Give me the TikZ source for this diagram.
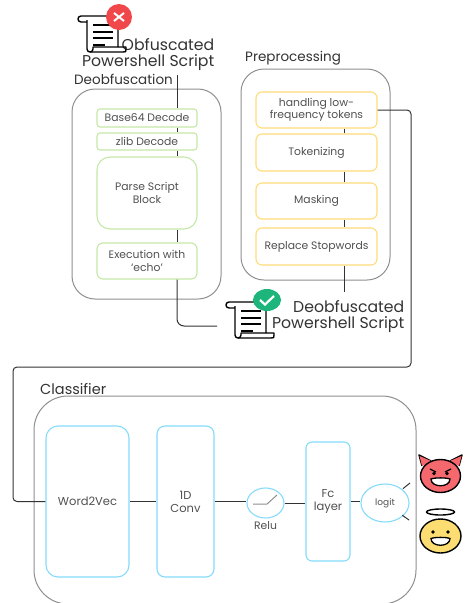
\documentclass[tikz,border=0pt]{standalone}
\usepackage{fontspec}
\setmainfont{Poppins}
\usetikzlibrary{calc,shapes.geometric}
\definecolor{panelgray}{HTML}{8F8F8F}
\definecolor{linedark}{HTML}{333333}
\definecolor{textgray}{HTML}{505050}
\definecolor{boxgreen}{HTML}{C4E8A8}
\definecolor{boxyellow}{HTML}{FFDC78}
\definecolor{boxblue}{HTML}{84DBFB}
\definecolor{badred}{HTML}{F0474A}
\definecolor{goodgreen}{HTML}{1DB57C}
\definecolor{devilred}{HTML}{F4686E}
\definecolor{angelyellow}{HTML}{FBDD72}
\tikzset{x=1pt,y=-1pt}
\tikzset{
  sized/.style 2 args={minimum width=#1pt,minimum height=#2pt,inner sep=0pt},
  panel/.style={draw=panelgray,line width=1pt,rounded corners=23pt},
  greenbox/.style={draw=boxgreen,line width=1.1pt,text=textgray,align=center,font=\fontsize{10.8}{12.5}\selectfont},
  yellowbox/.style={draw=boxyellow,line width=1.1pt,text=textgray,align=center,rounded corners=6pt,font=\fontsize{10.8}{12.5}\selectfont},
  bluebox/.style={draw=boxblue,line width=1.1pt,text=textgray,align=center,font=\fontsize{11.5}{13}\selectfont},
  conn/.style={draw=linedark,line width=1pt},
  title/.style={text=linedark,inner sep=0pt,font=\fontsize{13.5}{14}\selectfont},
  bigtitle/.style={text=linedark,inner sep=0pt,align=right,anchor=east,font=\fontsize{15.7}{16.5}\selectfont},
  scrollpic/.pic={
    \draw[black,line width=1.4pt,line join=round,fill=white] (0,4) -- (0,33) .. controls (0,37) and (6,37) .. (6,33) -- (6,31) -- (31,31) -- (31,0) -- (-6,0) .. controls (-10,0) and (-10,6) .. (-6,6) -- (0,6);
    \draw[black,line width=1.4pt,line join=round] (31,31) -- (39,31) -- (39,33) .. controls (39,36) .. (36,36) -- (3,36);
    \draw[black,line width=1.2pt] (6,9) -- (26,9)  (6,16) -- (26,16)  (6,22) -- (26,22)  (6,29) -- (18,29);
  },
}

\begin{document}
\begin{tikzpicture}

\clip (0,0) rectangle (464,603);

% panels
\node[panel,sized={149}{210}] (deobpanel) at (146.5,194) {};
\node[panel,sized={149}{211}] (prepanel) at (315.5,174.5) {};
\node[panel,sized={382}{208},rounded corners=34pt] (classpanel) at (225,500) {};

\node[title,anchor=west] (deobtitle) at (74,79) {Deobfuscation};
\node[title,anchor=west] (pretitle) at (245,58) {Preprocessing};
\node[title,anchor=west,font=\fontsize{14.5}{15}\selectfont] (classtitle) at (40,389) {Classifier};

% deobfuscation steps
\node[greenbox,sized={100}{18},rounded corners=3pt] (base) at (147,118) {Base64 Decode};
\node[greenbox,sized={100}{17},rounded corners=3pt] (zlib) at (147,141.5) {zlib Decode};
\node[greenbox,sized={100}{72},rounded corners=13pt] (parse) at (147,193) {Parse Script\\Block};
\node[greenbox,sized={100}{36},rounded corners=6pt] (exec) at (147,261) {Execution with\\`echo'};

% preprocessing steps
\node[yellowbox,sized={121}{36}] (lowfreq) at (316.5,110) {handling low-\\frequency tokens};
\node[yellowbox,sized={121}{37}] (token) at (316.5,152.5) {Tokenizing};
\node[yellowbox,sized={121}{36}] (mask) at (316.5,201) {Masking};
\node[yellowbox,sized={121}{37}] (stop) at (316.5,246.5) {Replace Stopwords};

% classifier
\node[bluebox,sized={83}{151},rounded corners=12pt] (wordvec) at (87.5,501.5) {Word2Vec};
\node[bluebox,sized={57}{151},rounded corners=8pt] (conv) at (185.5,501.5) {1D\\Conv};
\node[ellipse,draw=boxblue,line width=1.1pt,sized={37}{30}] (relu) at (265.5,503) {};
\node[text=textgray,inner sep=0pt,font=\fontsize{10.8}{14}\selectfont] (relulabel) at (265.5,526) {Relu};
\node[bluebox,sized={44}{119},rounded corners=6pt] (fc) at (328,501.5) {Fc\\layer};
\node[ellipse,draw=boxblue,line width=1.1pt,text=textgray,sized={48}{38},font=\fontsize{9}{9}\selectfont] (logit) at (385,503) {logit};

% script texts
\node[bigtitle] (obftext) at (214.5,54.5) {Obfuscated\\Powershell Script};
\node[bigtitle] (deobtext) at (404.5,316.5) {Deobfuscated\\Powershell Script};

\coordinate (deobin) at (177,75);
\coordinate (deobout) at (217,326);
\coordinate (preout) at (344.5,292);
\coordinate (turnright) at (411,367);
\coordinate (turnleft) at (13,367);
\coordinate (devilend) at (410,483);
\coordinate (angelend) at (409,520);

\draw[conn] (deobin) -- (deobin |- base.north);
\foreach \a/\b in {base/zlib,zlib/parse,parse/exec}
	\draw[conn] (deobin |- \a.south) -- (deobin |- \b.north);
\draw[conn,rounded corners=7pt] (deobin |- exec.south) -- (deobin |- deobout) -- (deobout);

\foreach \a/\b in {lowfreq/token,token/mask,mask/stop}
	\draw[conn] (preout |- \a.south) -- (preout |- \b.north);
\draw[conn] (preout |- stop.south) -- (preout);

\draw[conn,rounded corners=4pt] (lowfreq.east) -- (lowfreq.east -| turnright) -- (turnright) -- (turnleft) -- (turnleft |- wordvec.west) -- (wordvec.west);
\draw[conn] (wordvec.east) -- (wordvec.east -| conv.west);
\draw[conn] (conv.east) -- (conv.east -| relu.west);
\draw[conn] (relu.east) -- (relu.east -| fc.west);
\draw[conn] (fc.east) -- (fc.east -| logit.west);
\draw[conn] ($(logit.center)!0.72!(devilend)$) -- (devilend);
\draw[conn] ($(logit.center)!0.72!(angelend)$) -- (angelend);

% relu curve
\draw[panelgray,line width=1pt] (253,504) -- (267,504) -- (277,495);

% scripts
\pic at (87,16) {scrollpic};
\pic at (235,302) {scrollpic};

\fill[badred] (119,17) circle (13);
\draw[white,line width=2pt] (114,13) -- (124,21)  (124,13) -- (114,21);

\fill[goodgreen] (267,300) ellipse (14 and 11);
\draw[white,line width=2.2pt] (260,300) -- (265,304.5) -- (274,296);

% devil
\draw[black,line width=1.4pt,fill=devilred,line join=round] (422,466) -- (419,455) -- (431,461) (450,461) -- (462,455) -- (459,466) ;
\fill[devilred] (422,466) -- (419.5,456) -- (431,461) -- cycle  (459,466) -- (461.5,456) -- (450,461) -- cycle;
\draw[black,line width=1.4pt,fill=devilred] (440.5,476) ellipse (20 and 16.5);
\draw[black,line width=1.3pt] (430,469) -- (436,472)  (451,469) -- (445,472);
\fill[black] (434,473.5) circle (1.8)  (447,473.5) circle (1.8);
\draw[black,line width=1.3pt,fill=white] (431,479) .. controls (435,477.5) and (446,477.5) .. (450,479) .. controls (450,488) and (431,488) .. (431,479) -- cycle;

% angel
\draw[black,line width=1.4pt] (440.5,512) ellipse (14 and 3);
\draw[black,line width=1.4pt,fill=angelyellow] (440.5,536) ellipse (20.5 and 17);
\fill[black] (433,532) circle (1.8)  (448,532) circle (1.8);
\draw[black,line width=1.3pt,fill=white] (431,538.5) .. controls (435,537) and (446,537) .. (450,538.5) .. controls (450,547.5) and (431,547.5) .. (431,538.5) -- cycle;

\end{tikzpicture}
\end{document}
